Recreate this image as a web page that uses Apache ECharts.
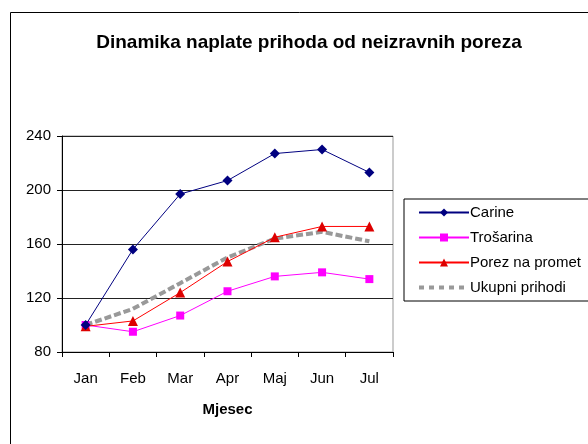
<!DOCTYPE html>
<html>
<head>
<meta charset="utf-8">
<script src="https://cdn.jsdelivr.net/npm/echarts@6/dist/echarts.min.js"></script>
<style>
  html, body { margin: 0; padding: 0; background: #fff; }
  #chart { width: 588px; height: 444px; }
</style>
</head>
<body>
<div id="chart"></div>
<script>
// data
const months = ['Jan', 'Feb', 'Mar', 'Apr', 'Maj', 'Jun', 'Jul']
const carine = [100, 156, 197, 207, 227, 230, 213]
const trosarina = [100, 95, 107, 125, 136, 139, 134]
const porez = [99, 103, 124, 147, 165, 173, 173]
const ukupni = [100, 112, 131, 150, 164, 169, 162]

const FONT = '"Liberation Sans", Arial, sans-serif'

// square-dot legend sample for the dashed series (tiny corner squares pin the box to 50x10)
const DASH_ICON =
  'path://M0,0h0.01v0.01h-0.01z M49.99,9.99h0.01v0.01h-0.01z ' +
  'M0,3h5v4h-5z M10,3h5v4h-5z M20,3h5v4h-5z M30,3h5v4h-5z M40,3h5v4h-5z'

const chart = echarts.init(document.getElementById('chart'))

chart.setOption({
  animation: false,
  textStyle: { fontFamily: FONT },
  title: {
    text: 'Dinamika naplate prihoda od neizravnih poreza',
    left: 304,
    textAlign: 'center',
    top: 28,
    textStyle: { fontFamily: FONT, fontSize: 19, fontWeight: 'bold', color: '#000' },
  },
  graphic: [
    {
      type: 'rect',
      left: 8,
      top: 10,
      shape: { width: 700, height: 500 },
      style: { fill: 'none', stroke: '#000', lineWidth: 1 },
      silent: true,
      z: -1,
    },
  ],
  legend: {
    orient: 'vertical',
    left: 404,
    top: 199,
    padding: [6, 40, 6, 14],
    itemGap: 10,
    itemWidth: 50,
    itemHeight: 10,
    borderColor: '#000',
    borderWidth: 1,
    borderRadius: 0,
    textStyle: { fontFamily: FONT, fontSize: 15, color: '#000', padding: [0, 0, 0, -4] },
    data: [
      'Carine',
      'Trošarina',
      'Porez na promet',
      { name: 'Ukupni prihodi', icon: DASH_ICON },
    ],
  },
  grid: {
    left: 62,
    top: 136,
    right: 195,
    bottom: 92,
    show: true,
    borderColor: '#999',
    borderWidth: 1,
  },
  xAxis: {
    type: 'category',
    data: months,
    boundaryGap: true,
    name: 'Mjesec',
    nameLocation: 'middle',
    nameGap: 50,
    nameTextStyle: { fontFamily: FONT, fontSize: 15, fontWeight: 'bold', color: '#000' },
    axisLine: { lineStyle: { color: '#000', width: 1 } },
    axisTick: { show: true, length: 5, lineStyle: { color: '#000' } },
    axisLabel: { fontFamily: FONT, fontSize: 15, color: '#000', margin: 19 },
  },
  yAxis: {
    type: 'value',
    min: 80,
    max: 240,
    interval: 40,
    axisLine: { show: true, lineStyle: { color: '#000', width: 1 } },
    axisTick: { show: true, length: 5, lineStyle: { color: '#000' } },
    axisLabel: { fontFamily: FONT, fontSize: 15, color: '#000', margin: 11 },
    splitLine: { show: true, lineStyle: { color: '#222', width: 1 } },
  },
  series: [
    {
      name: 'Carine',
      type: 'line',
      data: carine,
      symbol: 'diamond',
      symbolSize: 10,
      lineStyle: { color: '#000080', width: 1 },
      itemStyle: { color: '#000080' },
      z: 4,
    },
    {
      name: 'Trošarina',
      type: 'line',
      data: trosarina,
      symbol: 'rect',
      symbolSize: 8,
      lineStyle: { color: '#ff00ff', width: 1 },
      itemStyle: { color: '#ff00ff' },
      z: 3,
    },
    {
      name: 'Porez na promet',
      type: 'line',
      data: porez,
      symbol: 'triangle',
      symbolSize: 10,
      lineStyle: { color: '#ff0000', width: 1 },
      itemStyle: { color: '#dd0000' },
      z: 3,
    },
    {
      name: 'Ukupni prihodi',
      type: 'line',
      data: ukupni,
      symbol: 'none',
      lineStyle: { color: '#999999', width: 4, type: [7, 3] },
      itemStyle: { color: '#999999' },
      z: 2,
    },
  ],
})
</script>
</body>
</html>
